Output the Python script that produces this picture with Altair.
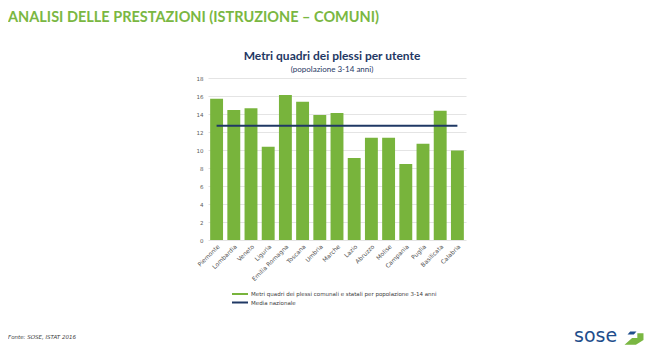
import altair as alt
import pandas as pd

regioni = ["Piemonte", "Lombardia", "Veneto", "Liguria", "Emilia Romagna", "Toscana",
           "Umbria", "Marche", "Lazio", "Abruzzo", "Molise", "Campania", "Puglia",
           "Basilicata", "Calabria"]
valori = [15.7, 14.45, 14.65, 10.35, 16.1, 15.35, 13.9, 14.1, 9.1, 11.35, 11.35, 8.45,
          10.7, 14.35, 9.95]
media_nazionale = 12.7
y_ticks = [0, 2, 4, 6, 8, 10, 12, 14, 16, 18]
serie_barre = "Metri quadri dei plessi comunali e statali per popolazione 3-14 anni"
serie_media = "Media nazionale"

titolo_pagina = "ANALISI DELLE PRESTAZIONI (ISTRUZIONE – COMUNI)"
titolo = "Metri quadri dei plessi per utente"
sottotitolo = "(popolazione 3-14 anni)"
fonte = "Fonte: SOSE, ISTAT 2016"

GREEN = "#78B43C"
NAVY = "#1F3864"

df_bar = pd.DataFrame({"regione": regioni, "valore": valori, "serie": serie_barre})
df_media = pd.DataFrame({"regione": regioni, "valore": [media_nazionale] * len(regioni),
                         "serie": serie_media})

color = alt.Color(
    "serie:N",
    scale=alt.Scale(domain=[serie_barre, serie_media], range=[GREEN, NAVY]),
    legend=alt.Legend(
        title=None, orient="none", legendX=28, legendY=212,
        symbolType="M-2,-0.25H2V0.25H-2Z", symbolSize=64, symbolStrokeWidth=0,
        labelFontSize=5.5, labelFont="DejaVu Sans", labelColor="#404040",
        rowPadding=0.5, labelOffset=7, labelLimit=400,
    ),
)

x = alt.X("regione:N", sort=regioni, title=None,
          scale=alt.Scale(paddingInner=0.25, paddingOuter=0.125),
          axis=alt.Axis(labelAngle=-45, labelFontSize=6, labelFont="DejaVu Sans",
                        labelColor="#505050", ticks=False, domain=False, labelPadding=3))
y = alt.Y("valore:Q", title=None, scale=alt.Scale(domain=[0, 18], nice=False),
          axis=alt.Axis(values=y_ticks, labelFontSize=5.5, labelFont="DejaVu Sans",
                        labelColor="#595959", ticks=False, domain=False, labelPadding=5,
                        gridColor="#D9D9D9", gridWidth=0.7))

bars = alt.Chart(df_bar).mark_bar(color=GREEN).encode(x=x, y=y, color=color)
line = alt.Chart(df_media).mark_line(strokeWidth=2).encode(x=x, y=y, color=color)

def txt(s, **kw):
    return alt.Chart(pd.DataFrame({"t": [s]})).mark_text(**kw).encode(text="t:N")

header = txt(titolo_pagina, align="left", baseline="top", font="Lato", fontWeight="bold",
             fontSize=14.5, color="#7AB742").encode(x=alt.value(-200), y=alt.value(-67))
title_t = txt(titolo, align="center", baseline="middle", font="Lato", fontWeight="bold",
              fontSize=12, color=NAVY).encode(x=alt.value(124), y=alt.value(-22))
sub_t = txt(sottotitolo, align="center", baseline="middle", font="Lato",
            fontSize=8, color=NAVY).encode(x=alt.value(124), y=alt.value(-8.5))
foot = txt(fonte, align="left", baseline="middle", font="DejaVu Sans", fontStyle="italic",
           fontSize=5.5, color="#404040").encode(x=alt.value(-200), y=alt.value(259))
logo = txt("sose", align="left", baseline="alphabetic", font="DejaVu Sans",
           fontSize=19, color="#1F4E8C").encode(x=alt.value(366), y=alt.value(264))
icon_g = alt.Chart(pd.DataFrame({"a": [0]})).mark_point(
    shape="M-1,0.6L-0.2,-0.1L0.35,-0.1L0.35,-0.6L1,-0.6L1,0.1L0.2,0.6Z", filled=True,
    color="#7AB742", size=360, opacity=1).encode(x=alt.value(426), y=alt.value(261))
icon_b = alt.Chart(pd.DataFrame({"a": [0]})).mark_point(
    shape="M-1,0.35L-0.4,-0.35L1,-0.35L0.4,0.35Z", filled=True, color="#1F4E8C",
    size=80, opacity=1).encode(x=alt.value(424), y=alt.value(255))

chart = alt.layer(bars, line, header, title_t, sub_t, foot, logo, icon_g, icon_b).properties(
    width=258, height=162,
    autosize=alt.AutoSizeParams(type="none"),
    padding={"left": 200, "top": 70, "right": 178, "bottom": 110},
).configure_view(stroke=None)

chart.save("out.html", embed_options={"renderer": "svg", "actions": False})
